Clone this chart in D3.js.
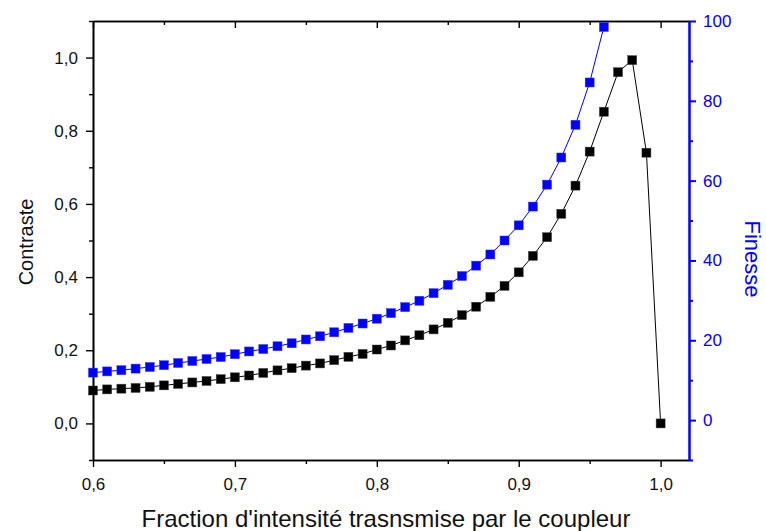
<!DOCTYPE html>
<html>
<head>
<meta charset="utf-8">
<script src="https://cdn.jsdelivr.net/npm/d3@7"></script>
<style>
  body { margin: 0; background: #fff; }
  text { font-family: "Liberation Sans", Arial, sans-serif; }
</style>
</head>
<body>
<div id="chart"></div>
<script>
// fraction d'intensité transmise (x) et séries
const fraction = [0.60, 0.61, 0.62, 0.63, 0.64, 0.65, 0.66, 0.67, 0.68, 0.69,
                  0.70, 0.71, 0.72, 0.73, 0.74, 0.75, 0.76, 0.77, 0.78, 0.79,
                  0.80, 0.81, 0.82, 0.83, 0.84, 0.85, 0.86, 0.87, 0.88, 0.89,
                  0.90, 0.91, 0.92, 0.93, 0.94, 0.95, 0.96, 0.97, 0.98, 0.99, 1.00]

const contraste = [0.090, 0.093, 0.095, 0.097, 0.100, 0.104, 0.108, 0.112, 0.116, 0.121,
                   0.126, 0.131, 0.138, 0.145, 0.151, 0.158, 0.164, 0.173, 0.182, 0.190,
                   0.202, 0.213, 0.227, 0.241, 0.257, 0.275, 0.296, 0.319, 0.346, 0.376,
                   0.413, 0.458, 0.509, 0.573, 0.650, 0.743, 0.852, 0.960, 0.993, 0.740, 0.000]

const finesse = [11.9, 12.2, 12.5, 12.9, 13.3, 13.75, 14.3, 14.8, 15.3, 15.8,
                 16.5, 17.2, 17.8, 18.5, 19.25, 20.2, 21.0, 22.0, 23.1, 24.2,
                 25.4, 26.8, 28.3, 29.9, 31.8, 33.9, 36.1, 38.7, 41.5, 45.0,
                 48.8, 53.5, 59.0, 65.8, 74.0, 84.6, 98.5]

const xTicks = [0.6, 0.7, 0.8, 0.9, 1.0]
const yLeftTicks = [0, 0.2, 0.4, 0.6, 0.8, 1.0]
const yRightTicks = [0, 20, 40, 60, 80, 100]

const WIDTH = 766
const HEIGHT = 531
const margin = { top: 21, right: 77, bottom: 71, left: 93 }
const BLUE = "#0000ff"

const svg = d3.select("#chart")
  .append("svg")
  .attr("width", WIDTH)
  .attr("height", HEIGHT)

const x = d3.scaleLinear().domain([0.6, 1.02]).range([margin.left, WIDTH - margin.right])
const yL = d3.scaleLinear().domain([-0.1, 1.1]).range([HEIGHT - margin.bottom, margin.top])
const yR = d3.scaleLinear().domain([-10, 100]).range([HEIGHT - margin.bottom, margin.top])

const fmt = d => d3.format(".1f")(d).replace(".", ",")

const xMinor = d3.range(0.65, 1.02, 0.1)
const yLMinor = d3.range(-0.1, 1.15, 0.2)
const yRMinor = d3.range(-10, 100, 20)

// axe du bas
const axBas = svg.append("g")
  .attr("transform", `translate(0,${HEIGHT - margin.bottom})`)
axBas.call(d3.axisBottom(x).tickValues(xTicks).tickFormat(fmt).tickSize(7).tickSizeOuter(0))
axBas.append("g").call(d3.axisBottom(x).tickValues(xMinor).tickFormat("").tickSize(4).tickSizeOuter(0))

// axe du haut (graduations vers l'intérieur)
const axHaut = svg.append("g").attr("transform", `translate(0,${margin.top})`)
axHaut.call(d3.axisBottom(x).tickValues(xTicks).tickFormat("").tickSize(7).tickSizeOuter(0))
axHaut.append("g").call(d3.axisBottom(x).tickValues(xMinor).tickFormat("").tickSize(4).tickSizeOuter(0))

// axe gauche
const axGauche = svg.append("g").attr("transform", `translate(${margin.left},0)`)
axGauche.call(d3.axisLeft(yL).tickValues(yLeftTicks).tickFormat(fmt).tickSize(7).tickSizeOuter(0))
axGauche.append("g").call(d3.axisLeft(yL).tickValues(yLMinor).tickFormat("").tickSize(4).tickSizeOuter(0))

// axe droit (bleu)
const axDroit = svg.append("g").attr("transform", `translate(${WIDTH - margin.right},0)`)
axDroit.call(d3.axisRight(yR).tickValues(yRightTicks).tickSize(7).tickSizeOuter(0))
axDroit.append("g").call(d3.axisRight(yR).tickValues(yRMinor).tickFormat("").tickSize(4).tickSizeOuter(0))

svg.selectAll(".domain").attr("stroke-width", 1.6)
svg.selectAll(".tick line").attr("stroke-width", 1.4)
svg.selectAll(".tick text").attr("font-size", 17).attr("fill", "#111")
  .attr("font-family", "Liberation Sans, Arial, sans-serif")
axBas.selectAll(".tick text").attr("y", 30).attr("dy", 0)
axGauche.selectAll(".tick text").attr("x", -15)
axDroit.selectAll(".tick text").attr("x", 14).attr("fill", BLUE)
axDroit.selectAll(".domain, line").attr("stroke", BLUE).attr("stroke-width", 2)

// courbes
const lineC = d3.line().x((d, i) => x(fraction[i])).y(d => yL(d))
const lineF = d3.line().x((d, i) => x(fraction[i])).y(d => yR(d))

svg.append("path").datum(contraste)
  .attr("d", lineC).attr("fill", "none").attr("stroke", "#000").attr("stroke-width", 1)
svg.append("path").datum(finesse)
  .attr("d", lineF).attr("fill", "none").attr("stroke", BLUE).attr("stroke-width", 1)

const S = 9
svg.append("g").selectAll("rect").data(contraste).join("rect")
  .attr("x", (d, i) => x(fraction[i]) - S / 2)
  .attr("y", d => yL(d) - S / 2)
  .attr("width", S).attr("height", S)
  .attr("fill", "#000").attr("stroke", "#444").attr("stroke-width", 0.5)

svg.append("g").selectAll("rect").data(finesse).join("rect")
  .attr("x", (d, i) => x(fraction[i]) - S / 2)
  .attr("y", d => yR(d) - S / 2)
  .attr("width", S).attr("height", S)
  .attr("fill", BLUE).attr("stroke", "#3a3aff").attr("stroke-width", 0.5)

// titres des axes
svg.append("text")
  .attr("x", 386)
  .attr("y", 527)
  .attr("text-anchor", "middle")
  .attr("font-size", 24)
  .attr("fill", "#111")
  .text("Fraction d'intensité trasnsmise par le coupleur")

svg.append("text")
  .attr("transform", `translate(33,242) rotate(-90)`)
  .attr("text-anchor", "middle")
  .attr("font-size", 20)
  .attr("fill", "#111")
  .text("Contraste")

svg.append("text")
  .attr("transform", `translate(745,259) rotate(90)`)
  .attr("text-anchor", "middle")
  .attr("font-size", 22)
  .attr("fill", BLUE)
  .text("Finesse")
</script>
</body>
</html>
